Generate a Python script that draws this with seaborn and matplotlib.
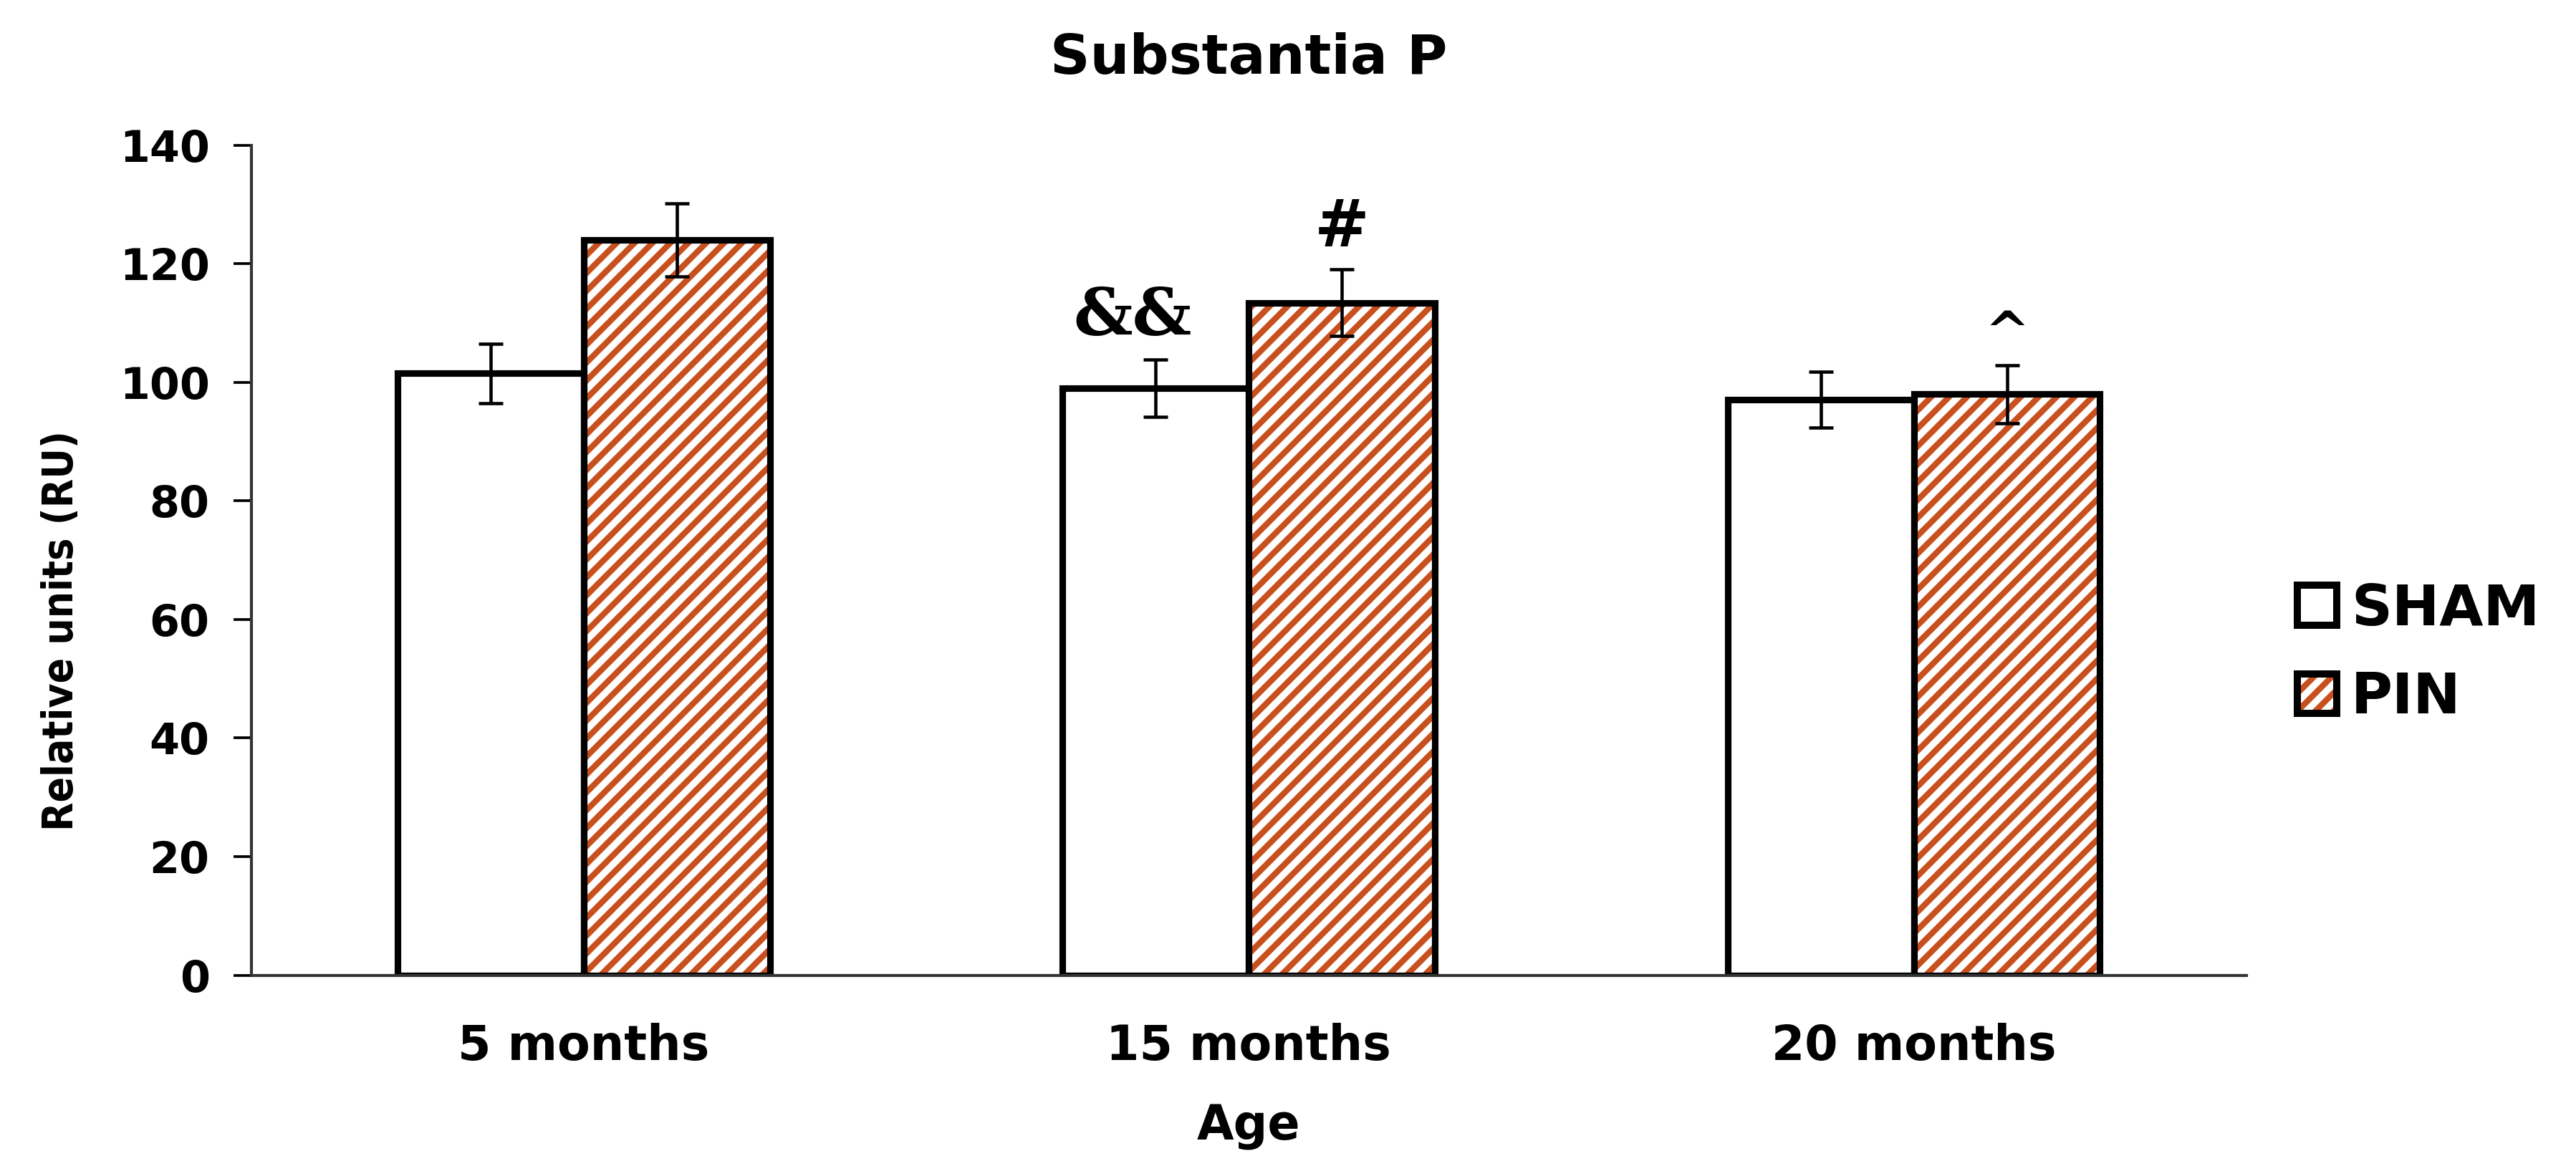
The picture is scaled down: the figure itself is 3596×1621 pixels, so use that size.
import pandas as pd
import matplotlib
matplotlib.use("Agg")
import matplotlib.pyplot as plt
import matplotlib.patches as mpatches
from matplotlib.colors import to_rgba
import seaborn as sns

# ─────────────────────────────────────────
# DATA
# ─────────────────────────────────────────
ages       = ["5 months", "15 months", "20 months"]
groups     = ["SHAM", "PIN"]
sham_mean  = [101.5, 99.0, 97.1]
pin_mean   = [124.0, 113.4, 98.0]
sham_err   = [5.0, 4.8, 4.7]
pin_err    = [6.2, 5.6, 4.9]

# significance marks
sig_age    = [1, 1, 2]
sig_group  = ["SHAM", "PIN", "PIN"]
sig_label  = ["&&", "#", "^"]
sig_y      = [111, 126, 108]

HATCH_COL = "#C8501E"

df = pd.DataFrame({
    "age"  : ages * 2,
    "group": ["SHAM"] * 3 + ["PIN"] * 3,
    "value": sham_mean + pin_mean,
})
errs = {"SHAM": sham_err, "PIN": pin_err}

sns.set_style("white")
plt.rcParams.update({
    "hatch.linewidth": 2.0,
    "text.color": "black",
    "axes.labelcolor": "black",
    "xtick.color": "black",
    "ytick.color": "black",
})

fig = plt.figure(figsize=(3596 / 300, 1621 / 300), dpi=300)
ax = fig.add_axes([0.0976, 0.160, 0.7744, 0.715])

sns.barplot(
    data=df, x="age", y="value", hue="group",
    order=ages, hue_order=groups,
    palette={"SHAM": "white", "PIN": "white"},
    edgecolor="black", linewidth=2.2,
    width=0.56, errorbar=None, legend=False, ax=ax,
)

# hatch PIN bars, error bars from patch positions
centers = {}
for grp, cont in zip(groups, ax.containers):
    xs, hs = [], []
    for bar in cont:
        if grp == "PIN":
            bar.set_hatch("////")
            bar._hatch_color = to_rgba(HATCH_COL)
        xs.append(bar.get_x() + bar.get_width() / 2)
        hs.append(bar.get_height())
    centers[grp] = xs
    ax.errorbar(xs, hs, yerr=errs[grp], fmt="none", ecolor="black",
                elinewidth=1.1, capsize=4, capthick=1.1, zorder=5)

for i, g, lab, y in zip(sig_age, sig_group, sig_label, sig_y):
    x = centers[g][i] - (0.035 if lab == "&&" else 0)
    ax.text(x, y, lab, ha="center", va="center",
            fontsize=22 if lab != "^" else 18, fontweight="bold",
            family="DejaVu Serif")

ax.set_ylim(0, 140)
ax.set_xlim(-0.5, 2.5)
ax.set_yticks(range(0, 141, 20))
ax.tick_params(axis="y", direction="out", length=6, width=0.9, left=True,
               labelsize=14.5, pad=8)
ax.tick_params(axis="x", length=0, labelsize=16, pad=16)
for lab in ax.get_yticklabels() + ax.get_xticklabels():
    lab.set_fontweight("bold")

sns.despine(ax=ax)
for s in ["left", "bottom"]:
    ax.spines[s].set_linewidth(1.0)
    ax.spines[s].set_color("#333333")

ax.set_xlabel("Age", fontsize=16, fontweight="bold", labelpad=11)
ax.set_ylabel("Relative units (RU)", fontsize=14, fontweight="bold",
              family="DejaVu Sans", fontstretch="condensed")
ax.yaxis.set_label_coords(-0.085, 0.415)
ax.set_title("Substantia P", fontsize=18.5, fontweight="bold", pad=24)

# legend
h_sham = mpatches.Patch(facecolor="white", edgecolor="black", linewidth=2.4)
h_pin = mpatches.Patch(facecolor="white", edgecolor="black", linewidth=2.4, hatch="////")
h_pin._hatch_color = to_rgba(HATCH_COL)
fig.legend([h_sham, h_pin], groups, loc="center left",
           bbox_to_anchor=(0.872, 0.437), frameon=False,
           handlelength=0.7, handleheight=0.7, handletextpad=0.25,
           labelspacing=0.6,
           prop={"family": "DejaVu Sans", "weight": "bold", "size": 19})

fig.savefig("out.png", dpi=300)
